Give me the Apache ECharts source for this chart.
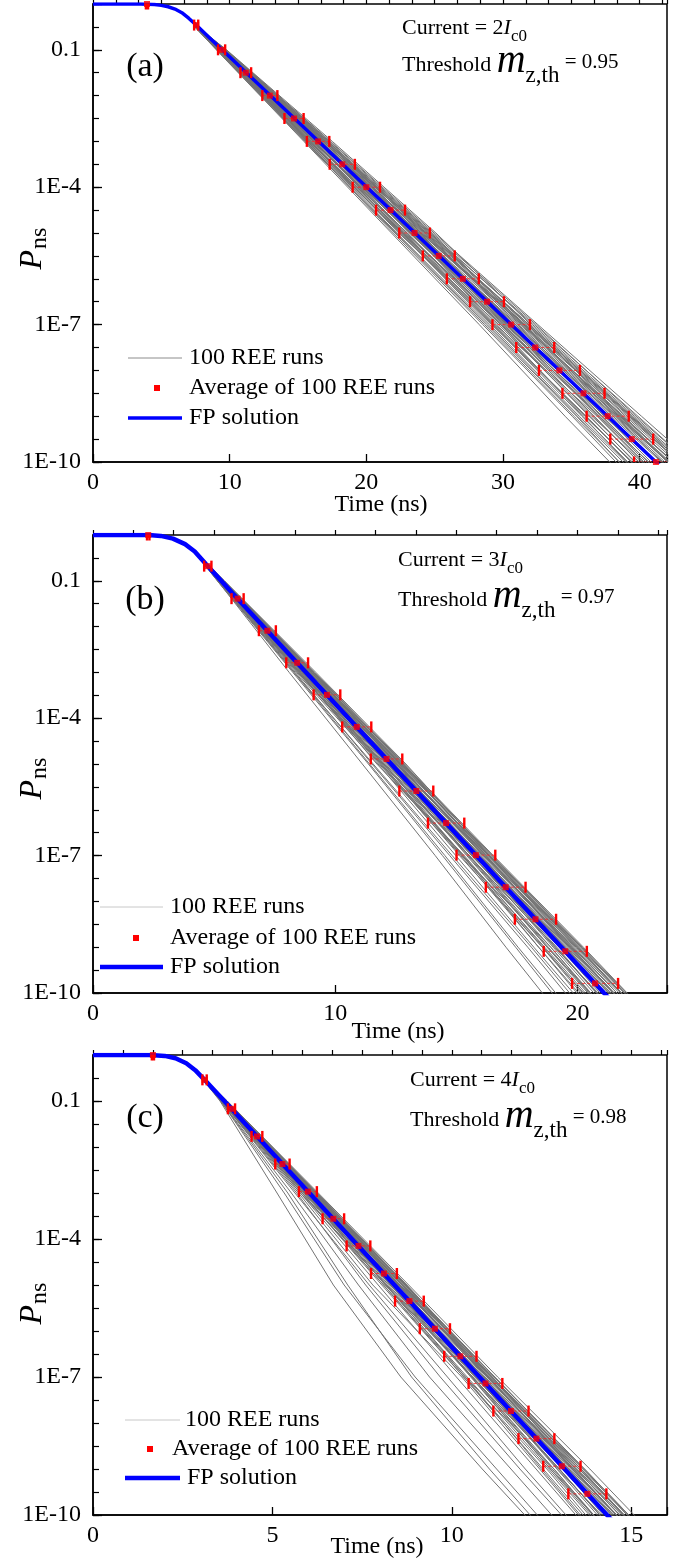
<!DOCTYPE html>
<html>
<head>
<meta charset="utf-8">
<script src="https://cdn.jsdelivr.net/npm/echarts@6/dist/echarts.min.js"></script>
<style>
  html, body { margin: 0; padding: 0; background: #fff; }
  #chart { width: 686px; height: 1560px; }
</style>
</head>
<body>
<div id="chart"></div>
<script>
// Non-switching probability P_ns against time, three drive currents.
// Probabilities are kept as log10(P); the y axis is drawn in decades.

// ---- shared ----
const yTickExps = [-10, -7, -4, -1];
const yTickLabels = ['1E-10', '1E-7', '1E-4', '0.1'];
const runLevels = [-0.5, -1, -3, -5, -7, -9, -11];   // log10 P where each REE run is sampled

// ---- panel (a): Current = 2 Ic0, threshold 0.95 ----
const fpTimeA = [0, 3.5, 4.5, 5, 5.5, 6, 6.5, 7, 7.55, 8.5, 9.41, 41.19, 42.96];
const fpLogA  = [0, 0, -0.01, -0.03, -0.06, -0.11, -0.19, -0.31, -0.46, -0.73, -0.99, -10, -10.5];
const avgTimeA = [3.95, 7.55, 9.41, 11.18, 12.94, 14.71, 16.47, 18.24, 20.0, 21.77, 23.53, 25.3, 27.06, 28.83, 30.6, 32.36, 34.13, 35.89, 37.66, 39.42, 41.19];
const avgLogA  = [0, -0.46, -1, -1.5, -2, -2.5, -3, -3.5, -4, -4.5, -5, -5.5, -6, -6.5, -7, -7.5, -8, -8.5, -9, -9.5, -10];
const avgSpreadA = [0.08, 0.15, 0.26, 0.39, 0.55, 0.7, 0.82, 0.92, 1.0, 1.06, 1.12, 1.17, 1.17, 1.24, 1.37, 1.39, 1.5, 1.54, 1.54, 1.57, 1.6];
const levelTimeA = [7.55, 9.41, 16.47, 23.53, 30.6, 37.66, 44.72];
const runsA = [
  [0.07, 0.26, 0.65, 1.17, 1.56, 1.95, 2.34], [-0.07, -0.26, -0.78, -1.3, -1.69, -2.21, -2.6],
  [0.03, 0.13, 0.39, 0.26, 0.65, 0.91, 0.78], [-0.03, -0.13, -0.26, -0.65, -0.52, -1.04, -1.43],
  [0.1, 0.33, 0.91, 1.43, 1.95, 2.47, 2.99], [-0.1, -0.39, -1.04, -1.69, -2.34, -3.12, -3.64],
  [0.0, 0.07, -0.13, 0.39, 0.13, -0.26, 0.26], [0.04, 0.2, 0.52, 0.78, 1.17, 1.3, 1.69],
  [-0.05, -0.2, -0.65, -0.91, -1.43, -1.56, -2.08], [0.01, 0.0, 0.26, -0.13, -0.39, 0.13, -0.13],
  [0.08, 0.26, 0.78, 0.65, 1.04, 1.56, 1.82], [-0.08, -0.33, -0.52, -1.17, -0.91, -1.3, -1.82],
  [0.05, 0.13, 0.13, 0.52, 0.91, 0.65, 1.17], [-0.04, -0.07, -0.39, -0.26, -0.78, -1.17, -0.91],
  [0.09, 0.36, 1.04, 1.56, 1.43, 1.82, 2.21], [-0.09, -0.26, -0.91, -1.56, -2.08, -2.6, -3.25],
  [0.03, 0.16, 0.33, 0.91, 1.3, 1.04, 1.43], [-0.01, -0.1, 0.0, -0.39, -0.13, -0.65, -0.39],
  [0.07, 0.23, 0.59, 0.46, 0.78, 1.17, 1.3], [-0.07, -0.16, -0.59, -0.78, -1.17, -0.78, -1.17],
  [0.0, -0.03, 0.2, 0.13, 0.46, 0.39, 0.65], [-0.12, -0.36, -0.98, -1.43, -1.95, -2.47, -2.86],
  [0.04, 0.1, 0.46, 1.04, 1.69, 2.21, 2.6], [-0.03, -0.23, -0.72, -0.52, -1.04, -1.82, -2.47],
  [0.05, 0.18, 0.26, -0.26, 0.0, 0.52, 0.39], [-0.05, 0.0, -0.2, 0.0, -0.26, -0.39, -0.78],
  [0.08, 0.29, 0.72, 1.24, 0.91, 1.43, 1.95], [-0.08, -0.29, -0.85, -1.04, -1.56, -2.08, -2.34],
  [0.01, 0.08, 0.13, 0.72, 0.52, 0.78, 1.04], [-0.04, -0.13, -0.46, -0.2, -0.59, -0.46, -0.65],
  [0.04, 0.16, 0.59, 0.98, 1.3, 1.69, 2.08], [-0.04, -0.16, -0.46, -0.85, -1.24, -1.63, -1.95],
  [0.07, 0.21, 0.72, 0.85, 1.3, 1.76, 1.89], [-0.07, -0.22, -0.65, -1.1, -1.37, -1.89, -2.21],
  [0.01, 0.05, 0.07, 0.33, 0.2, 0.59, 0.72], [-0.01, -0.05, -0.07, -0.33, -0.46, -0.2, -0.52],
  [0.05, 0.22, 0.39, 0.59, 0.98, 0.85, 1.24], [-0.05, -0.21, -0.33, -0.72, -0.65, -0.98, -1.56],
  [0.03, 0.12, 0.26, 0.2, 0.33, 0.72, 0.98], [-0.03, -0.12, -0.33, -0.13, -0.33, -0.72, -1.04],
  [0.08, 0.31, 0.85, 1.3, 1.82, 2.08, 2.73], [-0.09, -0.34, -0.91, -1.37, -1.82, -2.28, -3.12],
  [0.0, 0.03, 0.16, 0.07, -0.2, 0.07, 0.13], [0.04, 0.14, 0.49, 0.78, 0.72, 1.1, 1.5],
  [-0.04, -0.13, -0.55, -0.85, -0.78, -1.37, -1.63], [0.03, 0.09, 0.36, 0.46, 0.85, 0.98, 0.91],
  [-0.03, -0.09, -0.23, -0.55, -0.72, -0.59, -0.85], [0.05, 0.17, 0.55, 1.1, 1.17, 1.63, 1.76],
  [-0.07, -0.25, -0.78, -0.98, -1.3, -1.69, -1.76], [0.01, -0.04, 0.0, 0.23, 0.33, 0.26, 0.52]
];

// ---- panel (b): Current = 3 Ic0, threshold 0.97 ----
const fpTimeB = [0, 2.3, 2.8, 3.3, 3.8, 4.2, 4.67, 5.95, 21.1, 22.0];
const fpLogB  = [0, 0, -0.02, -0.08, -0.2, -0.36, -0.64, -1.38, -10, -10.51];
const avgTimeB = [2.28, 4.74, 5.97, 7.2, 8.43, 9.66, 10.89, 12.12, 13.35, 14.58, 15.81, 17.04, 18.27, 19.5, 20.73];
const avgLogB  = [0, -0.68, -1.39, -2.09, -2.79, -3.49, -4.19, -4.89, -5.59, -6.29, -6.99, -7.69, -8.39, -9.09, -9.79];
const avgSpreadB = [0.05, 0.15, 0.25, 0.35, 0.45, 0.55, 0.6, 0.65, 0.7, 0.75, 0.8, 0.82, 0.85, 0.89, 0.95];
const levelTimeB = [4.43, 5.29, 8.8, 12.32, 15.83, 19.35, 22.86];
const runsB = [
  [0.03, 0.1, 0.3, 0.5, 0.6, 0.8, 0.9], [-0.03, -0.12, -0.5, -0.9, -1.3, -1.8, -2.2],
  [0.01, 0.05, 0.15, 0.1, 0.3, 0.4, 0.35], [-0.01, -0.05, -0.15, -0.35, -0.3, -0.55, -0.7],
  [0.04, 0.12, 0.35, 0.55, 0.7, 0.9, 1.0], [-0.05, -0.15, -0.7, -1.2, -1.7, -2.3, -2.8],
  [0.0, 0.02, -0.05, 0.2, 0.05, -0.1, 0.1], [0.02, 0.08, 0.2, 0.35, 0.5, 0.55, 0.7],
  [-0.02, -0.08, -0.3, -0.45, -0.7, -0.8, -1.1], [0.01, 0.0, 0.1, -0.05, -0.2, 0.05, -0.05],
  [0.03, 0.1, 0.3, 0.25, 0.45, 0.65, 0.75], [-0.03, -0.14, -0.25, -0.6, -0.5, -0.75, -1.0],
  [0.02, 0.05, 0.05, 0.25, 0.4, 0.3, 0.5], [-0.02, -0.03, -0.2, -0.15, -0.4, -0.6, -0.5],
  [0.04, 0.14, 0.4, 0.6, 0.55, 0.75, 0.9], [-0.04, -0.12, -0.45, -0.8, -1.1, -1.4, -1.8],
  [0.01, 0.06, 0.12, 0.4, 0.55, 0.45, 0.6], [-0.01, -0.04, 0.0, -0.2, -0.05, -0.3, -0.2],
  [0.03, 0.09, 0.25, 0.2, 0.35, 0.5, 0.55], [-0.03, -0.07, -0.3, -0.4, -0.6, -0.45, -0.65],
  [0.0, -0.01, 0.08, 0.05, 0.2, 0.15, 0.3], [-0.05, -0.16, -0.55, -0.95, -1.4, -1.9, -2.4],
  [0.02, 0.04, 0.2, 0.45, 0.65, 0.85, 1.0], [-0.01, -0.1, -0.35, -0.3, -0.55, -0.95, -1.3],
  [0.02, 0.07, 0.1, -0.1, 0.0, 0.2, 0.15], [-0.02, 0.0, -0.1, 0.0, -0.15, -0.2, -0.4],
  [0.03, 0.11, 0.3, 0.5, 0.4, 0.6, 0.8], [-0.04, -0.13, -0.4, -0.55, -0.85, -1.15, -1.4],
  [0.01, 0.03, 0.05, 0.3, 0.25, 0.35, 0.45], [-0.02, -0.06, -0.25, -0.1, -0.3, -0.25, -0.35],
  [0.02, 0.07, 0.25, 0.4, 0.5, 0.65, 0.75], [-0.02, -0.07, -0.2, -0.4, -0.55, -0.7, -0.85],
  [0.03, 0.09, 0.28, 0.35, 0.55, 0.7, 0.7], [-0.03, -0.1, -0.3, -0.5, -0.65, -0.95, -1.15],
  [0.01, 0.02, 0.03, 0.15, 0.1, 0.25, 0.3], [-0.01, -0.02, -0.03, -0.15, -0.2, -0.1, -0.25],
  [0.02, 0.08, 0.15, 0.25, 0.4, 0.35, 0.5], [-0.02, -0.09, -0.15, -0.3, -0.3, -0.45, -0.75],
  [0.01, 0.05, 0.1, 0.08, 0.15, 0.3, 0.4], [-0.01, -0.05, -0.15, -0.05, -0.15, -0.35, -0.5],
  [0.03, 0.12, 0.32, 0.5, 0.65, 0.8, 0.95], [-0.04, -0.14, -0.5, -0.75, -1.0, -1.25, -1.6],
  [0.0, 0.01, 0.07, 0.03, -0.08, 0.03, 0.05], [0.02, 0.06, 0.2, 0.32, 0.3, 0.45, 0.6],
  [-0.02, -0.06, -0.25, -0.35, -0.35, -0.6, -0.75], [0.01, 0.04, 0.15, 0.2, 0.35, 0.4, 0.4],
  [-0.01, -0.04, -0.1, -0.25, -0.3, -0.25, -0.4], [0.02, 0.07, 0.22, 0.45, 0.5, 0.7, 0.75],
  [-0.03, -0.11, -0.35, -0.45, -0.6, -0.8, -0.9], [0.0, -0.02, 0.0, 0.1, 0.15, 0.12, 0.25]
];

// ---- panel (c): Current = 4 Ic0, threshold 0.98 ----
const fpTimeC = [0, 1.6, 2.0, 2.3, 2.6, 2.85, 3.11, 3.86, 14.33, 14.92];
const fpLogC  = [0, 0, -0.02, -0.07, -0.18, -0.33, -0.54, -1.17, -10, -10.5];
const avgTimeC = [1.67, 3.11, 3.86, 4.57, 5.28, 5.99, 6.70, 7.40, 8.11, 8.82, 9.53, 10.24, 10.94, 11.65, 12.36, 13.07, 13.78];
const avgLogC  = [0, -0.54, -1.17, -1.77, -2.37, -2.97, -3.56, -4.15, -4.75, -5.35, -5.95, -6.55, -7.14, -7.74, -8.34, -8.94, -9.54];
const avgSpreadC = [0.03, 0.06, 0.1, 0.15, 0.2, 0.25, 0.3, 0.33, 0.36, 0.4, 0.42, 0.45, 0.47, 0.49, 0.5, 0.52, 0.53];
const levelTimeC = [3.06, 3.66, 6.03, 8.40, 10.78, 13.15, 15.52];
const runsC = [
  [0.02, 0.06, 0.2, 0.3, 0.4, 0.55, 0.65], [-0.02, -0.1, -0.6, -1.3, -1.9, -2.1, -2.2],
  [0.01, 0.03, 0.1, 0.05, 0.2, 0.25, 0.25], [-0.01, -0.03, -0.1, -0.25, -0.2, -0.35, -0.45],
  [0.03, 0.08, 0.25, 0.4, 0.5, 0.7, 0.8], [-0.03, -0.12, -0.9, -1.7, -2.2, -2.3, -2.3],
  [0.0, 0.01, -0.03, 0.12, 0.03, -0.05, 0.05], [0.01, 0.05, 0.12, 0.22, 0.3, 0.35, 0.45],
  [-0.01, -0.05, -0.2, -0.3, -0.45, -0.5, -0.7], [0.0, 0.0, 0.06, -0.03, -0.12, 0.03, -0.03],
  [0.02, 0.06, 0.18, 0.15, 0.3, 0.4, 0.5], [-0.02, -0.08, -0.3, -0.6, -0.5, -0.7, -0.9],
  [0.01, 0.03, 0.03, 0.15, 0.25, 0.2, 0.3], [-0.01, -0.02, -0.12, -0.1, -0.25, -0.4, -0.35],
  [0.02, 0.08, 0.22, 0.35, 0.35, 0.5, 0.6], [-0.03, -0.1, -0.5, -1.0, -1.4, -1.5, -1.6],
  [0.01, 0.04, 0.08, 0.25, 0.35, 0.3, 0.4], [0.0, -0.02, 0.0, -0.12, -0.03, -0.2, -0.12],
  [0.02, 0.05, 0.15, 0.12, 0.22, 0.32, 0.35], [-0.02, -0.05, -0.2, -0.3, -0.4, -0.3, -0.45],
  [0.0, -0.01, 0.05, 0.03, 0.12, 0.1, 0.2], [-0.03, -0.1, -0.7, -1.4, -1.8, -1.9, -2.0],
  [0.01, 0.02, 0.12, 0.28, 0.42, 0.55, 0.65], [-0.01, -0.06, -0.25, -0.22, -0.4, -0.65, -0.85],
  [0.01, 0.04, 0.06, -0.06, 0.0, 0.12, 0.1], [-0.01, 0.0, -0.06, 0.0, -0.1, -0.15, -0.28],
  [0.02, 0.07, 0.18, 0.32, 0.25, 0.4, 0.5], [-0.02, -0.08, -0.4, -0.7, -0.9, -1.1, -1.2],
  [0.0, 0.02, 0.03, 0.2, 0.15, 0.22, 0.3], [-0.01, -0.04, -0.15, -0.08, -0.2, -0.15, -0.25],
  [0.01, 0.04, 0.15, 0.25, 0.33, 0.45, 0.5], [-0.01, -0.04, -0.12, -0.25, -0.35, -0.45, -0.55],
  [0.02, 0.05, 0.18, 0.22, 0.35, 0.45, 0.45], [-0.02, -0.06, -0.2, -0.35, -0.45, -0.6, -0.75],
  [0.0, 0.01, 0.02, 0.1, 0.06, 0.16, 0.2], [0.0, -0.01, -0.02, -0.1, -0.14, -0.06, -0.16],
  [0.01, 0.05, 0.1, 0.16, 0.26, 0.22, 0.32], [-0.01, -0.06, -0.1, -0.2, -0.2, -0.3, -0.5],
  [0.01, 0.03, 0.06, 0.05, 0.1, 0.2, 0.26], [-0.01, -0.03, -0.1, -0.04, -0.1, -0.22, -0.33],
  [0.02, 0.07, 0.2, 0.33, 0.42, 0.52, 0.62], [-0.02, -0.08, -0.35, -0.8, -1.1, -1.25, -1.3],
  [0.0, 0.01, 0.04, 0.02, -0.05, 0.02, 0.03], [0.01, 0.04, 0.13, 0.21, 0.2, 0.3, 0.4],
  [-0.01, -0.04, -0.16, -0.23, -0.23, -0.4, -0.5], [0.01, 0.03, 0.1, 0.13, 0.23, 0.26, 0.26],
  [-0.01, -0.03, -0.07, -0.16, -0.2, -0.16, -0.26], [0.01, 0.05, 0.15, 0.3, 0.33, 0.45, 0.5],
  [-0.02, -0.07, -0.25, -0.45, -0.65, -0.8, -0.95], [0.0, -0.01, 0.0, 0.07, 0.1, 0.08, 0.16]
];

const currentTexts = ['2', '3', '4'];
const thresholdTexts = ['0.95', '0.97', '0.98'];
const panelLetters = ['(a)', '(b)', '(c)'];
const legendTexts = ['100 REE runs', 'Average of 100 REE runs', 'FP solution'];

// ---- layout ----
const FONT = '"Liberation Serif", "Times New Roman", serif';
const panels = [
  { top: 4,    height: 458, xMax: 42,   xStep: 10, fpW: 3.5,
    fpT: fpTimeA, fpL: fpLogA, avT: avgTimeA, avL: avgLogA, avS: avgSpreadA, lvT: levelTimeA, runs: runsA,
    note: [402, 28, 65], letter: [145, 67], yName: 249, xName: [381, 505],
    legend: { x0: 128, x1: 182, sq: 157, tx: [189, 189, 189], ys: [358, 388, 418], gray: '#8c8c8c' } },
  { top: 535,  height: 458, xMax: 23.7, xStep: 10, fpW: 4.5,
    fpT: fpTimeB, fpL: fpLogB, avT: avgTimeB, avL: avgLogB, avS: avgSpreadB, lvT: levelTimeB, runs: runsB,
    note: [398, 560, 600], letter: [145, 600], yName: 779, xName: [398, 1032],
    legend: { x0: 100, x1: 163, sq: 136, tx: [170, 170, 170], ys: [907, 938, 967], gray: '#c8c8c8' } },
  { top: 1055, height: 460, xMax: 16,   xStep: 5, fpW: 4.5,
    fpT: fpTimeC, fpL: fpLogC, avT: avgTimeC, avL: avgLogC, avS: avgSpreadC, lvT: levelTimeC, runs: runsC,
    note: [410, 1080, 1120], letter: [145, 1118], yName: 1304, xName: [377, 1547],
    legend: { x0: 125, x1: 180, sq: 150, tx: [185, 172, 187], ys: [1420, 1449, 1478], gray: '#c8c8c8' } }
];

const measureCtx = document.createElement('canvas').getContext('2d');
function textWidth(str, size, italic) {
  measureCtx.font = (italic ? 'italic ' : '') + size + 'px ' + FONT;
  return measureCtx.measureText(str).width;
}
function txt(x, y, s, size, italic, align) {
  return { type: 'text', x: x, y: y, z: 50,
    style: { text: s, fontSize: size, fontFamily: FONT, fontStyle: italic ? 'italic' : 'normal',
             fill: '#000', align: align || 'left', verticalAlign: 'middle' } };
}
// a row of text pieces laid left to right: [text, size, italic, dy]
function textRow(x, y, parts) {
  const out = [];
  let cx = x;
  parts.forEach(p => { out.push(txt(cx, y + p[3], p[0], p[1], p[2])); cx += textWidth(p[0], p[1], p[2]); });
  return out;
}

const grids = [], xAxes = [], yAxes = [], series = [], graphics = [];

panels.forEach((p, i) => {
  grids.push({ left: 93, top: p.top, width: 574, height: p.height, show: true,
               borderColor: '#000', borderWidth: 1.5, backgroundColor: 'transparent' });

  const isMajorX = v => Math.abs(v / p.xStep - Math.round(v / p.xStep)) < 1e-6;
  xAxes.push({ type: 'value', gridIndex: i, min: 0, max: p.xMax, interval: p.xStep, position: 'bottom',
    axisLine: { show: true, onZero: false, lineStyle: { color: '#000', width: 1.5 } },
    axisTick: { show: true, inside: true, length: 8, lineStyle: { color: '#000', width: 1.3 } },
    axisLabel: { show: true, margin: 9, fontSize: 24, fontFamily: FONT, color: '#000',
                 formatter: v => isMajorX(v) ? String(Math.round(v)) : '' },
    splitLine: { show: false } });
  xAxes.push({ type: 'value', gridIndex: i, min: 0, max: p.xMax, interval: p.xStep / 6, position: 'bottom',
    axisLine: { show: false }, axisLabel: { show: false }, splitLine: { show: false },
    axisTick: { show: true, inside: true, length: 5, lineStyle: { color: '#000', width: 1.2 } } });

  yAxes.push({ type: 'value', gridIndex: i, min: -10, max: 0, interval: 3, position: 'left',
    axisLine: { show: true, onZero: false, lineStyle: { color: '#000', width: 1.5 } },
    axisTick: { show: true, inside: true, length: 9, lineStyle: { color: '#000', width: 1.3 } },
    axisLabel: { show: true, margin: 12, fontSize: 24, fontFamily: FONT, color: '#000',
                 formatter: v => { const k = yTickExps.findIndex(e => Math.abs(e - v) < 1e-6); return k >= 0 ? yTickLabels[k] : ''; } },
    splitLine: { show: false } });
  yAxes.push({ type: 'value', gridIndex: i, min: -10, max: 0, interval: 0.5, position: 'left',
    axisLine: { show: false }, axisLabel: { show: false }, splitLine: { show: false },
    axisTick: { show: true, inside: true, length: 6, lineStyle: { color: '#000', width: 1.2 } } });

  const xi = 2 * i, yi = 2 * i;

  // 100 REE runs (grey)
  p.runs.forEach(dev => {
    series.push({ type: 'line', xAxisIndex: xi, yAxisIndex: yi, silent: true, symbol: 'none', clip: true,
      lineStyle: { color: '#737373', width: 1.0 }, z: 1,
      data: dev.map((d, j) => [p.lvT[j] + d, runLevels[j]]) });
  });

  // FP solution
  series.push({ type: 'line', xAxisIndex: xi, yAxisIndex: yi, silent: true, symbol: 'none', clip: true,
    lineStyle: { color: '#0000ff', width: p.fpW }, z: 3,
    data: p.fpT.map((t, j) => [t, p.fpL[j]]) });

  // spread of the run times at each averaged point
  series.push({ type: 'custom', xAxisIndex: xi, yAxisIndex: yi, silent: true, clip: true, z: 4,
    data: p.avT.map((t, j) => [t, p.avL[j], p.avS[j]]),
    encode: { x: 0, y: 1 },
    renderItem: (params, api) => {
      const y = api.value(1), s = api.value(2);
      const a = api.coord([api.value(0) - s, y]);
      const b = api.coord([api.value(0) + s, y]);
      const h = 5.5;
      return { type: 'group', children: [
        { type: 'line', shape: { x1: a[0], y1: a[1], x2: b[0], y2: b[1] },
          style: { stroke: '#ff2020', lineWidth: 0.8, lineDash: [3, 2] } },
        { type: 'line', shape: { x1: a[0], y1: a[1] - h, x2: a[0], y2: a[1] + h },
          style: { stroke: '#ff0000', lineWidth: 2.4 } },
        { type: 'line', shape: { x1: b[0], y1: b[1] - h, x2: b[0], y2: b[1] + h },
          style: { stroke: '#ff0000', lineWidth: 2.4 } }
      ] };
    } });

  // average of the runs
  series.push({ type: 'scatter', xAxisIndex: xi, yAxisIndex: yi, silent: true, clip: true, z: 5,
    symbol: 'rect', symbolSize: 6, itemStyle: { color: '#ff0000' },
    data: p.avT.map((t, j) => [t, p.avL[j]]) });

  // annotations
  const [nx, ny1, ny2] = p.note;
  graphics.push(...textRow(nx, ny1, [
    ['Current = ' + currentTexts[i], 22, false, 0], ['I', 22, true, 0], ['c0', 17, false, 9] ]));
  graphics.push(...textRow(nx, ny2, [
    ['Threshold ', 22, false, 0], ['m', 40, true, -4], ['z,th', 23, false, 11], [' = ' + thresholdTexts[i], 21, false, -3] ]));
  graphics.push(txt(p.letter[0], p.letter[1], panelLetters[i], 34, false, 'center'));

  // axis titles
  graphics.push(txt(p.xName[0], p.xName[1], 'Time (ns)', 24, false, 'center'));
  const wP = textWidth('P', 32, true), wS = textWidth('ns', 24, false);
  graphics.push({ type: 'group', x: 33, y: p.yName + (wP + wS) / 2, rotation: Math.PI / 2, z: 50,
    children: [ txt(0, 0, 'P', 32, true), txt(wP + 1, 7, 'ns', 24, false) ] });

  // legend
  const L = p.legend;
  graphics.push({ type: 'line', z: 50, shape: { x1: L.x0, y1: L.ys[0], x2: L.x1, y2: L.ys[0] },
                  style: { stroke: L.gray, lineWidth: 1 } });
  graphics.push({ type: 'rect', z: 50, shape: { x: L.sq - 3, y: L.ys[1] - 3, width: 6, height: 6 },
                  style: { fill: '#ff0000' } });
  graphics.push({ type: 'line', z: 50, shape: { x1: L.x0, y1: L.ys[2], x2: L.x1, y2: L.ys[2] },
                  style: { stroke: '#0000ff', lineWidth: p.fpW } });
  legendTexts.forEach((s, k) => graphics.push(txt(L.tx[k], L.ys[k], s, 24, false)));
});

const chart = echarts.init(document.getElementById('chart'), null, { renderer: 'canvas' });
chart.setOption({
  animation: false,
  backgroundColor: '#fff',
  grid: grids,
  xAxis: xAxes,
  yAxis: yAxes,
  series: series,
  graphic: graphics
});
</script>
</body>
</html>
